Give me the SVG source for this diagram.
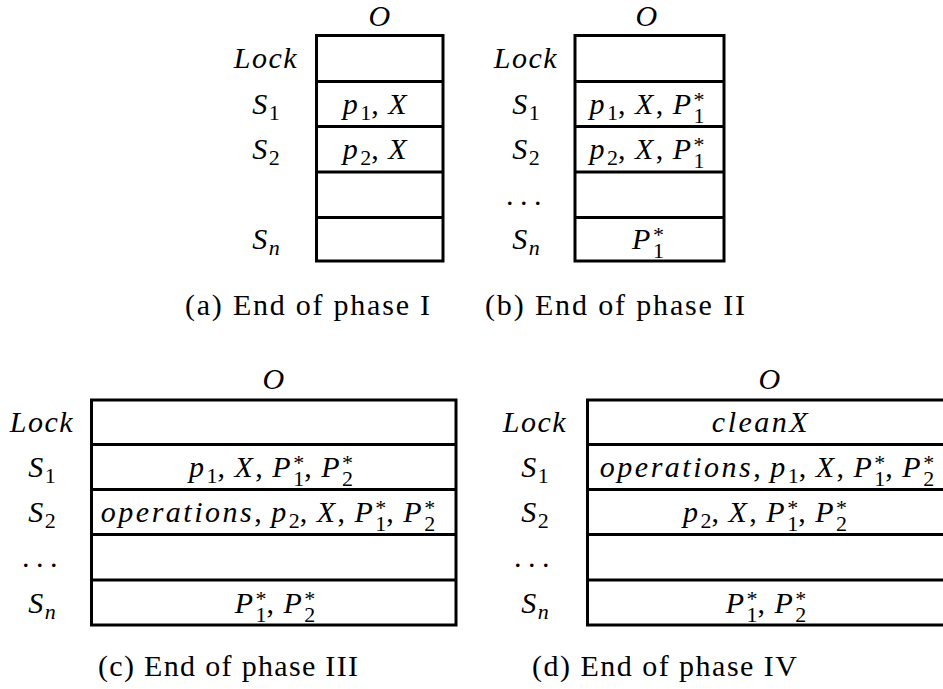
<svg xmlns="http://www.w3.org/2000/svg" width="943" height="689" viewBox="0 0 943 689">
<style>
.bg{fill:#fff}
.box{fill:none;stroke:#000;stroke-width:3}
.ln{stroke:#000;stroke-width:3}
.t{font-size:30px;font-style:italic;letter-spacing:1.5px;text-anchor:middle;fill:#000}
.c{font-size:30px;font-style:italic;letter-spacing:2.5px;text-anchor:middle;fill:#000}
.u{font-style:normal;letter-spacing:1px}
.s{font-size:22px;font-style:normal;letter-spacing:0}
.si{font-size:22px;font-style:italic;letter-spacing:0}
.dots{font-size:30px;letter-spacing:6.5px;text-anchor:middle;fill:#000}
.cap{font-size:30px;fill:#000}
</style>
<rect class="bg" x="0" y="0" width="943" height="689"/>
<g id="connectors"/>
<g font-family="'Liberation Serif', 'Times New Roman', Tinos, serif">
<g id="table-a">
<text class="t" x="380" y="26">O</text>
<rect class="box" x="316.5" y="35.5" width="126.5" height="225.5"/>
<line class="ln" x1="316.5" y1="81.5" x2="443" y2="81.5"/>
<line class="ln" x1="316.5" y1="126.5" x2="443" y2="126.5"/>
<line class="ln" x1="316.5" y1="172" x2="443" y2="172"/>
<line class="ln" x1="316.5" y1="217.5" x2="443" y2="217.5"/>
<text class="t" x="266" y="68">Lock</text>
<text class="t" x="266" y="113.5">S<tspan class="s" dy="6">1</tspan></text>
<text class="t" x="266" y="159">S<tspan class="s" dy="6">2</tspan></text>
<text class="t" x="266" y="249">S<tspan class="si" dy="6">n</tspan></text>
<text class="c" x="376" y="113.5">p<tspan class="s" dy="6">1</tspan><tspan class="u" dy="-6">, </tspan>X</text>
<text class="c" x="376" y="159">p<tspan class="s" dy="6">2</tspan><tspan class="u" dy="-6">, </tspan>X</text>
</g>

<g id="table-b">
<text class="t" x="647" y="26">O</text>
<rect class="box" x="575" y="35.5" width="149" height="225.5"/>
<line class="ln" x1="575" y1="81.5" x2="724" y2="81.5"/>
<line class="ln" x1="575" y1="126.5" x2="724" y2="126.5"/>
<line class="ln" x1="575" y1="172" x2="724" y2="172"/>
<line class="ln" x1="575" y1="217.5" x2="724" y2="217.5"/>
<text class="t" x="526" y="68">Lock</text>
<text class="t" x="526" y="113.5">S<tspan class="s" dy="6">1</tspan></text>
<text class="t" x="526" y="159">S<tspan class="s" dy="6">2</tspan></text>
<text class="dots" x="527" y="204.5">...</text>
<text class="t" x="526" y="249">S<tspan class="si" dy="6">n</tspan></text>
<text class="c" x="647" y="113.5">p<tspan class="s" dy="6">1</tspan><tspan class="u" dy="-6">, </tspan>X<tspan class="u">, </tspan>P<tspan class="s" dy="-7">*</tspan><tspan class="s" dx="-11" dy="16">1</tspan></text>
<text class="c" x="647" y="159">p<tspan class="s" dy="6">2</tspan><tspan class="u" dy="-6">, </tspan>X<tspan class="u">, </tspan>P<tspan class="s" dy="-7">*</tspan><tspan class="s" dx="-11" dy="16">1</tspan></text>
<text class="c" x="648" y="249">P<tspan class="s" dy="-7">*</tspan><tspan class="s" dx="-11" dy="16">1</tspan></text>
</g>

<g id="table-c">
<text class="t" x="274" y="389">O</text>
<rect class="box" x="91.5" y="400" width="364.5" height="225"/>
<line class="ln" x1="91.5" y1="444.5" x2="456" y2="444.5"/>
<line class="ln" x1="91.5" y1="489.5" x2="456" y2="489.5"/>
<line class="ln" x1="91.5" y1="534.5" x2="456" y2="534.5"/>
<line class="ln" x1="91.5" y1="580" x2="456" y2="580"/>
<text class="t" x="42" y="432">Lock</text>
<text class="t" x="42" y="477">S<tspan class="s" dy="6">1</tspan></text>
<text class="t" x="42" y="522">S<tspan class="s" dy="6">2</tspan></text>
<text class="dots" x="43" y="567">...</text>
<text class="t" x="42" y="612.5">S<tspan class="si" dy="6">n</tspan></text>
<text class="c" x="271" y="477">p<tspan class="s" dy="6">1</tspan><tspan class="u" dy="-6">, </tspan>X<tspan class="u">, </tspan>P<tspan class="s" dy="-7">*</tspan><tspan class="s" dx="-11" dy="16">1</tspan><tspan class="u" dy="-9">, </tspan>P<tspan class="s" dy="-7">*</tspan><tspan class="s" dx="-11" dy="16">2</tspan></text>
<text class="c" x="268" y="522">operations<tspan class="u">, </tspan>p<tspan class="s" dy="6">2</tspan><tspan class="u" dy="-6">, </tspan>X<tspan class="u">, </tspan>P<tspan class="s" dy="-7">*</tspan><tspan class="s" dx="-11" dy="16">1</tspan><tspan class="u" dy="-9">, </tspan>P<tspan class="s" dy="-7">*</tspan><tspan class="s" dx="-11" dy="16">2</tspan></text>
<text class="c" x="275" y="612.5">P<tspan class="s" dy="-7">*</tspan><tspan class="s" dx="-11" dy="16">1</tspan><tspan class="u" dy="-9">, </tspan>P<tspan class="s" dy="-7">*</tspan><tspan class="s" dx="-11" dy="16">2</tspan></text>
</g>

<g id="table-d">
<text class="t" x="770" y="389">O</text>
<rect class="box" x="587.5" y="400" width="362" height="225"/>
<line class="ln" x1="587.5" y1="444.5" x2="950" y2="444.5"/>
<line class="ln" x1="587.5" y1="489.5" x2="950" y2="489.5"/>
<line class="ln" x1="587.5" y1="534.5" x2="950" y2="534.5"/>
<line class="ln" x1="587.5" y1="580" x2="950" y2="580"/>
<text class="t" x="535" y="432">Lock</text>
<text class="t" x="535" y="477">S<tspan class="s" dy="6">1</tspan></text>
<text class="t" x="535" y="522">S<tspan class="s" dy="6">2</tspan></text>
<text class="dots" x="535" y="567">...</text>
<text class="t" x="535" y="612.5">S<tspan class="si" dy="6">n</tspan></text>
<text class="c" x="761" y="432" letter-spacing="4">cleanX</text>
<text class="c" x="767" y="477">operations<tspan class="u">, </tspan>p<tspan class="s" dy="6">1</tspan><tspan class="u" dy="-6">, </tspan>X<tspan class="u">, </tspan>P<tspan class="s" dy="-7">*</tspan><tspan class="s" dx="-11" dy="16">1</tspan><tspan class="u" dy="-9">, </tspan>P<tspan class="s" dy="-7">*</tspan><tspan class="s" dx="-11" dy="16">2</tspan></text>
<text class="c" x="765" y="522">p<tspan class="s" dy="6">2</tspan><tspan class="u" dy="-6">, </tspan>X<tspan class="u">, </tspan>P<tspan class="s" dy="-7">*</tspan><tspan class="s" dx="-11" dy="16">1</tspan><tspan class="u" dy="-9">, </tspan>P<tspan class="s" dy="-7">*</tspan><tspan class="s" dx="-11" dy="16">2</tspan></text>
<text class="c" x="766" y="612.5">P<tspan class="s" dy="-7">*</tspan><tspan class="s" dx="-11" dy="16">1</tspan><tspan class="u" dy="-9">, </tspan>P<tspan class="s" dy="-7">*</tspan><tspan class="s" dx="-11" dy="16">2</tspan></text>
</g>

<g id="captions">
<text class="cap" x="185" y="315" textLength="245" lengthAdjust="spacing">(a) End of phase I</text>
<text class="cap" x="485" y="315" textLength="260" lengthAdjust="spacing">(b) End of phase II</text>
<text class="cap" x="98" y="676" textLength="260" lengthAdjust="spacing">(c) End of phase III</text>
<text class="cap" x="532" y="676" textLength="265" lengthAdjust="spacing">(d) End of phase IV</text>
</g>
</g>
</svg>
